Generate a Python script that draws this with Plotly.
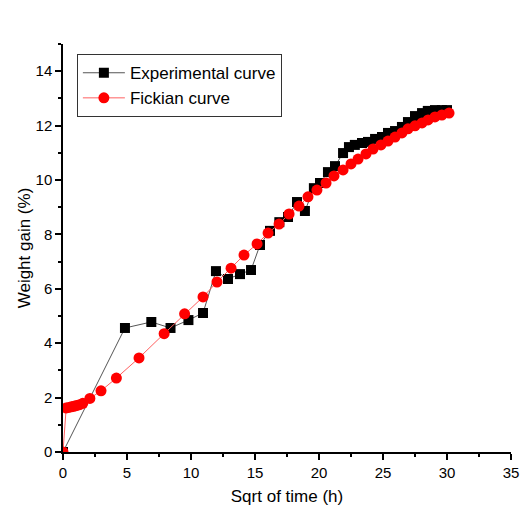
import plotly.graph_objects as go

exp_x = [0, 4.84, 6.9, 8.4, 9.8, 10.94, 11.95, 12.89, 13.83, 14.69, 15.39, 16.17, 16.9,
         17.58, 18.28, 18.9, 19.6, 20.08, 20.7, 21.25, 21.88, 22.34, 22.8, 23.36, 23.83,
         24.38, 24.92, 25.39, 25.94, 26.48, 26.95, 27.5, 28.05, 28.5, 29.06, 29.6, 30.0]
exp_y = [0, 4.56, 4.78, 4.56, 4.85, 5.11, 6.65, 6.36, 6.54, 6.69, 7.61, 8.13, 8.45,
         8.64, 9.19, 8.86, 9.7, 9.89, 10.29, 10.51, 10.99, 11.21, 11.29, 11.36, 11.40,
         11.51, 11.58, 11.73, 11.80, 11.95, 12.13, 12.35, 12.46, 12.54, 12.57, 12.57, 12.57]

fick_x = [0, 0.25, 0.45, 0.65, 0.85, 1.05, 1.3, 1.55, 2.1, 2.97, 4.17, 5.94, 7.9, 9.5,
          10.94, 12.03, 13.13, 14.14, 15.16, 16.02, 16.88, 17.66, 18.44, 19.14, 19.84,
          20.55, 21.17, 21.88, 22.5, 23.05, 23.67, 24.22, 24.84, 25.39, 25.94, 26.48,
          26.95, 27.5, 28.05, 28.52, 29.06, 29.6, 30.16]
fick_y = [0, 1.62, 1.64, 1.66, 1.68, 1.71, 1.74, 1.79, 1.97, 2.25, 2.72, 3.46, 4.35, 5.08,
          5.70, 6.25, 6.76, 7.24, 7.65, 8.05, 8.38, 8.75, 9.04, 9.38, 9.63,
          9.89, 10.15, 10.37, 10.59, 10.77, 10.96, 11.14, 11.29, 11.43, 11.58, 11.73,
          11.88, 11.99, 12.10, 12.21, 12.32, 12.39, 12.46]

x_ticks = [0, 5, 10, 15, 20, 25, 30, 35]
y_ticks = [0, 2, 4, 6, 8, 10, 12, 14]

fig = go.Figure()
fig.add_trace(go.Scatter(
    x=exp_x, y=exp_y, mode="lines+markers", name="Experimental curve",
    line=dict(color="#555555", width=1),
    marker=dict(symbol="square", size=10, color="black"),
))
fig.add_trace(go.Scatter(
    x=fick_x, y=fick_y, mode="lines+markers", name="Fickian curve",
    line=dict(color="#ff6060", width=1),
    marker=dict(symbol="circle", size=11, color="red"),
))

FONT = "Liberation Sans, Arial"
axis_common = dict(
    showgrid=False, zeroline=False, showline=True, linecolor="black", linewidth=1.5,
    ticks="outside", ticklen=6, tickwidth=1.5, tickcolor="black", automargin=False,
    tickfont=dict(family=FONT, size=15, color="black"),
)

fig.update_layout(
    width=521, height=517,
    margin=dict(l=63, r=10, t=44, b=65),
    paper_bgcolor="white", plot_bgcolor="white",
    font=dict(family=FONT, color="black"),
    xaxis=dict(range=[0, 35], tickvals=x_ticks, ticktext=[str(v) for v in x_ticks],
               title=dict(text="Sqrt of time (h)", font=dict(size=17), standoff=10),
               minor=dict(ticks="outside", ticklen=3, tickwidth=1.5, tickcolor="black",
                          dtick=2.5, tick0=0),
               **axis_common),
    yaxis=dict(range=[0, 15], tickvals=y_ticks, ticktext=[str(v) for v in y_ticks],
               title=dict(text="Weight gain (%)", font=dict(size=17), standoff=1),
               minor=dict(ticks="outside", ticklen=3, tickwidth=1.5, tickcolor="black",
                          dtick=1, tick0=0),
               **axis_common),
    legend=dict(x=0.031, y=0.975, xanchor="left", yanchor="top",
                bordercolor="#333333", borderwidth=1, bgcolor="white",
                font=dict(size=17), tracegroupgap=0, itemwidth=42),
    showlegend=True,
)

fig.write_html("out.html")
